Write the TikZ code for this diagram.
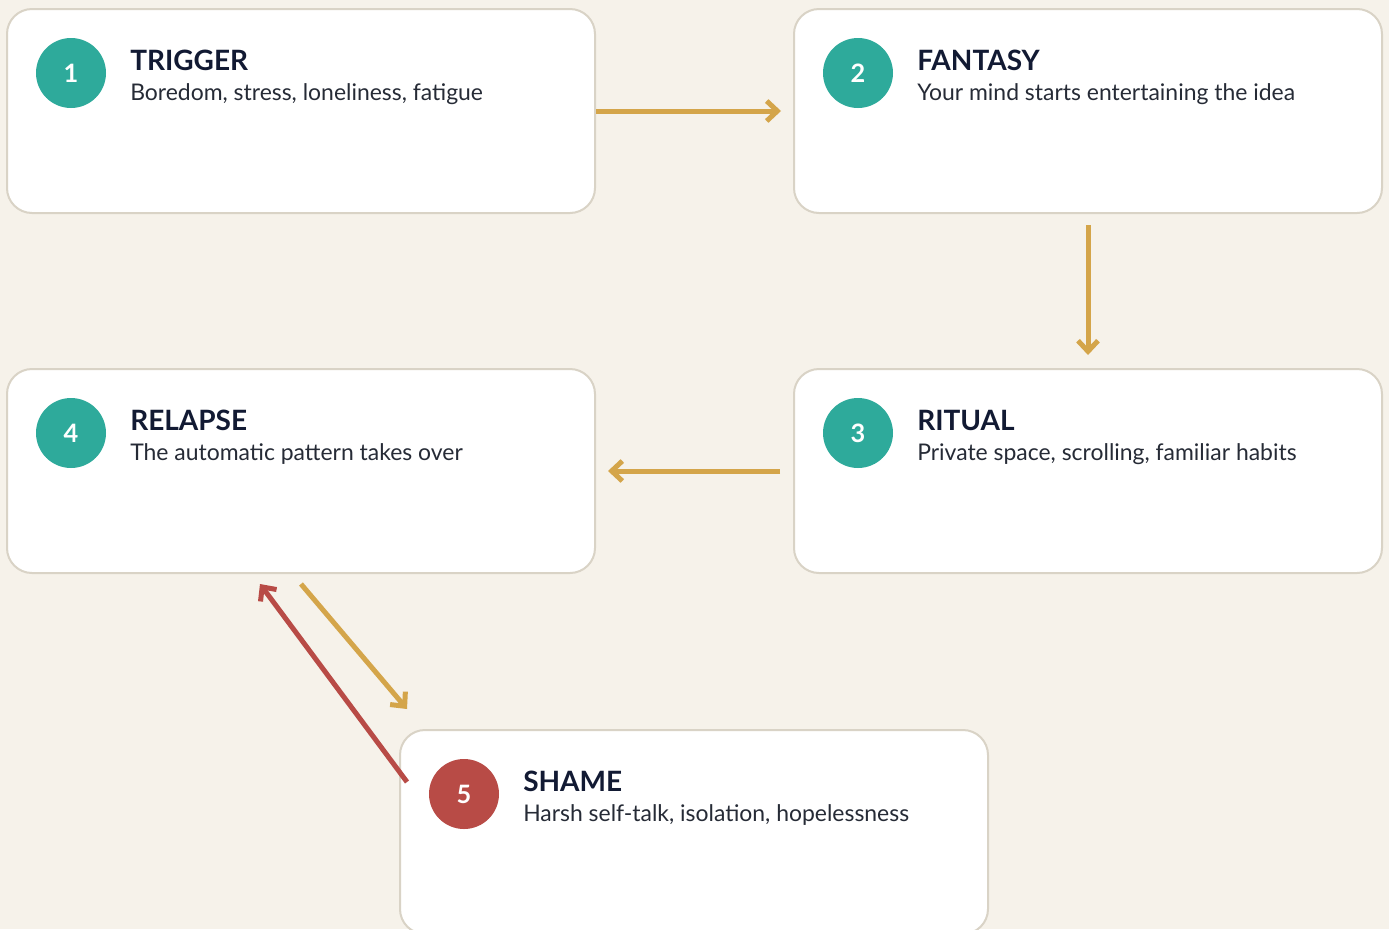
\documentclass[tikz,border=0pt]{standalone}
\usepackage{fontspec}
\setmainfont{Lato}
\usetikzlibrary{positioning,arrows.meta}

\definecolor{paper}{HTML}{F6F2EA}
\definecolor{rim}{HTML}{D9D3C6}
\definecolor{teal}{HTML}{2EAA9B}
\definecolor{alarm}{HTML}{B84B46}
\definecolor{gold}{HTML}{D4A54A}
\definecolor{ink}{HTML}{121A33}
\definecolor{greyink}{HTML}{262B36}

\tikzstyle{card}=[draw=rim,fill=white,line width=1.5pt,rounded corners=18.75pt,minimum width=441pt,minimum height=153pt,inner sep=0pt]
\tikzstyle{badge}=[shape=circle,fill=#1,minimum size=52.5pt,inner sep=0pt,text=white,font=\fontsize{19}{22}\selectfont\bfseries]
\tikzstyle{headline}=[anchor=base west,inner sep=0pt,text=ink,font=\fontsize{21}{25}\selectfont\bfseries]
\tikzstyle{blurb}=[anchor=base west,inner sep=0pt,text=greyink,font=\fontsize{17.2}{20}\selectfont]
\tikzstyle{flow}=[draw=#1,line width=3.75pt,-{Straight Barb[length=8pt,width=15pt]}]
\newcommand{\stage}[6]{\node[card,#2] (#1) {};
    \node[badge=#4] (#1-num) at ([xshift=48.75pt,yshift=-48.75pt]#1.north west) {#3};
    \node[headline] (#1-head) at ([xshift=93pt,yshift=-46.75pt]#1.north west) {#5};
    \node[blurb] (#1-text) at ([xshift=93pt,yshift=-69.25pt]#1.north west) {#6};}

\begin{document}
\begin{tikzpicture}[x=0.75pt,y=-0.75pt,node distance=115.5pt and 147.75pt]
    % page
    \useasboundingbox[fill=paper] (0,0) rectangle (1389,929);

    % the five stages
    \stage{trigger}{at={(301,111)}}{1}{teal}{TRIGGER}{Boredom, stress, loneliness, fatigue}
    \stage{fantasy}{right=of trigger}{2}{teal}{FANTASY}{Your mind starts entertaining the idea}
    \stage{ritual}{below=of fantasy}{3}{teal}{RITUAL}{Private space, scrolling, familiar habits}
    \stage{relapse}{left=of ritual}{4}{teal}{RELAPSE}{The automatic pattern takes over}
    \stage{shame}{below right=116.25pt and -147.75pt of relapse}{5}{alarm}{SHAME}{Harsh self-talk, isolation, hopelessness}

    % the cycle
    \draw[flow=gold] (trigger.east) -- ([xshift=-9pt]fantasy.west);
    \draw[flow=gold] ([yshift=-8.25pt]fantasy.south) -- ([yshift=9.75pt]ritual.north);
    \draw[flow=gold] ([xshift=-9.75pt]ritual.west) -- ([xshift=9pt]relapse.east);
    \draw[flow=gold] ([yshift=-7.5pt]relapse.south) -- ([xshift=6pt,yshift=15pt]shame.north west);
    \draw[flow=alarm] ([xshift=6pt,yshift=-39.75pt]shame.north west) -- ([xshift=-30.75pt,yshift=-7.5pt]relapse.south);
\end{tikzpicture}
\end{document}
